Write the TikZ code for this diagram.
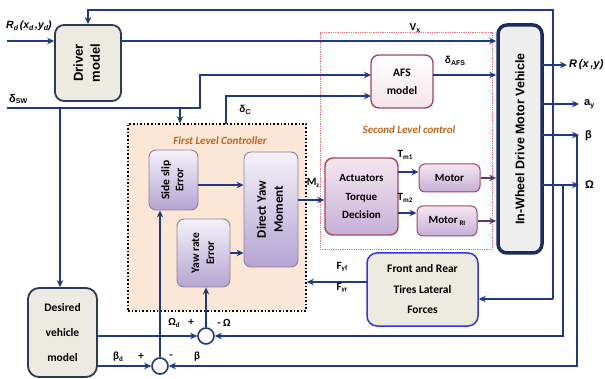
\documentclass[tikz,border=0pt]{standalone}
\usepackage{fontspec}
\setmainfont{Carlito}
\newfontfamily\arialf{Liberation Sans}
\usetikzlibrary{arrows.meta,calc}
\definecolor{navy}{HTML}{1F3A80}
\definecolor{beige}{HTML}{ECEAE1}
\definecolor{boxedge}{HTML}{2E3A55}
\definecolor{vehfill}{HTML}{EEEEEE}
\definecolor{vehedge}{HTML}{1A2B5C}
\definecolor{pedge}{HTML}{8A8298}
\definecolor{ptop}{HTML}{F4F2F8}
\definecolor{pbot}{HTML}{B3A4D2}
\definecolor{redge}{HTML}{A3465A}
\definecolor{rtop}{HTML}{F6E6EE}
\definecolor{rbot}{HTML}{C4B0D8}
\definecolor{afsbot}{HTML}{F3E4EA}
\definecolor{flcfill}{HTML}{FCE6D6}
\definecolor{orangelab}{HTML}{C0621A}
\definecolor{tiresedge}{HTML}{3434E0}
\definecolor{slcline}{HTML}{EC6F80}
\definecolor{motarr}{HTML}{5B3B62}
\newcommand{\lsub}[1]{\raisebox{-1.6pt}{\fontsize{7}{8}\selectfont #1}}
\tikzset{
  ln/.style={draw=navy, line width=1.6pt},
  arr/.style={ln, -{Stealth[length=7pt,width=6.5pt]}},
  greybox/.style={draw=boxedge, line width=1.8pt, rounded corners=9pt, fill=beige, align=center, inner sep=0pt},
  purplebox/.style={draw=pedge, line width=0.9pt, rounded corners=7pt, top color=ptop, bottom color=pbot, align=center, inner sep=0pt},
  redbox/.style={draw=redge, line width=1.4pt, rounded corners=8pt, top color=rtop, bottom color=rbot, align=center, inner sep=0pt},
  lab/.style={font=\arialf\bfseries\fontsize{10}{12}\selectfont, text=black, inner sep=0pt},
  clab/.style={font=\bfseries\fontsize{11}{12}\selectfont, text=black, inner sep=0pt},
  sumj/.style={circle, draw=navy, line width=1.6pt, fill=white, minimum size=16pt, inner sep=0pt},
}
\begin{document}
\begin{tikzpicture}[x=1pt,y=-1pt]
\useasboundingbox (0,0) rectangle (605,379);
% group boxes
\node[draw=black, dotted, line width=1.6pt, fill=flcfill, minimum width=178pt, minimum height=187pt, inner sep=0pt] (flc) at (217,217.5) {};
\node[draw=slcline, densely dotted, line width=0.8pt, minimum width=172pt, minimum height=217pt, inner sep=0pt] (slc) at (406,140.5) {};
\node[font=\bfseries\itshape\fontsize{11}{12}\selectfont, text=orangelab] (flct) at (220,141) {First Level Controller};
\node[font=\bfseries\itshape\fontsize{11}{12}\selectfont, text=orangelab] (slct) at (409,130) {Second Level control};

% blocks
\node[greybox, minimum width=66pt, minimum height=76pt] (driver) at (88,63)
  {\rotatebox{90}{\arialf\bfseries\fontsize{13}{17}\selectfont\begin{tabular}{@{}c@{}}Driver\\model\end{tabular}}};
\node[draw=vehedge, line width=3.5pt, rounded corners=9pt, fill=vehfill, minimum width=44pt, minimum height=228pt, inner sep=0pt] (veh) at (520,139)
  {\rotatebox{90}{\arialf\bfseries\fontsize{12.5}{14}\selectfont In-Wheel Drive Motor Vehicle}};
\node[draw=redge, line width=1.4pt, rounded corners=8pt, top color=white, bottom color=afsbot, minimum width=62pt, minimum height=53pt, align=center, inner sep=0pt, font=\bfseries\fontsize{11.5}{18}\selectfont] (afs) at (402,81.5) {AFS\\model};
\node[purplebox, minimum width=49pt, minimum height=60pt] (ss) at (173.5,180)
  {\rotatebox{90}{\bfseries\fontsize{11.5}{14}\selectfont\begin{tabular}{@{}c@{}}Side slip\\Error\end{tabular}}};
\node[purplebox, minimum width=53pt, minimum height=68pt] (yr) at (203.5,253)
  {\rotatebox{90}{\bfseries\fontsize{11.5}{15}\selectfont\begin{tabular}{@{}c@{}}Yaw rate\\Error\end{tabular}}};
\node[purplebox, minimum width=54pt, minimum height=115pt] (dym) at (271,209.5)
  {\rotatebox{90}{\bfseries\fontsize{13}{17}\selectfont\begin{tabular}{@{}c@{}}Direct Yaw\\Moment\end{tabular}}};
\node[redbox, minimum width=73pt, minimum height=77pt, font=\bfseries\fontsize{11}{18.5}\selectfont] (act) at (361.5,196.5) {Actuators\\Torque\\Decision};
\node[redbox, line width=1pt, rounded corners=6pt, minimum width=61pt, minimum height=28pt, font=\bfseries\fontsize{11}{12}\selectfont] (mot) at (449.5,178) {Motor};
\node[redbox, line width=1pt, rounded corners=6pt, minimum width=60pt, minimum height=30pt, font=\bfseries\fontsize{11}{12}\selectfont] (motri) at (447,221) {Motor\,\lsub{RI}};
\node[draw=tiresedge, line width=1.5pt, rounded corners=10pt, fill=beige, minimum width=111pt, minimum height=73pt, align=center, inner sep=0pt, font=\bfseries\fontsize{11.5}{20.5}\selectfont] (tires) at (422.5,289.5) {Front and Rear\\Tires Lateral\\Forces};
\node[greybox, rounded corners=11pt, minimum width=69pt, minimum height=89pt, font=\bfseries\fontsize{11.5}{25}\selectfont] (des) at (62.5,332.5) {Desired\\vehicle\\model};
\node[sumj] (osum) at (206,336) {};
\node[sumj] (bsum) at (160,366) {};

% coordinates
\coordinate (rdin) at (7,41);
\coordinate (vxs) at (121,41);
\coordinate (dsw) at (7,108);
\coordinate (dswA) at (200,108);
\coordinate (dswB) at (180,108);
\coordinate (dswC) at (60,108);
\coordinate (afsin1) at (371,75);
\coordinate (afsin2) at (371,96);
\coordinate (dcs) at (226,124);
\coordinate (afsout) at (433,75);
\coordinate (ftop) at (553,10);
\coordinate (fbot) at (553,299);
\coordinate (rout) at (542,65);
\coordinate (rend) at (567,65);
\coordinate (ayout) at (542,104);
\coordinate (ayend) at (579,104);
\coordinate (bout) at (542,135);
\coordinate (bend) at (579,135);
\coordinate (bfb) at (577,135);
\coordinate (oout) at (542,185);
\coordinate (oend) at (579,185);
\coordinate (ofb) at (563,185);
\coordinate (fin) at (367,282);
\coordinate (ssout) at (198,185);
\coordinate (mzout) at (298,200);
\coordinate (t1) at (398,172);
\coordinate (t2) at (398,213);
\coordinate (dso) at (97,336);
\coordinate (dsb) at (97,366);

% connectors
\draw[arr] (rdin) -- (rdin -| driver.west);
\draw[arr] (fbot) -- (ftop) -| (driver.north);
\draw[arr] (fbot) -- (fbot -| tires.east);
\draw[arr] (vxs) -- (vxs -| veh.west);
\draw[arr] (dsw) -- (dswA) |- (afsin1);
\draw[arr] (dswB) -- (dswB |- flc.north);
\draw[arr] (dswC) -- (dswC |- des.north);
\draw[arr] (dcs) |- (afsin2);
\draw[arr] (afsout) -- (afsout -| veh.west);
\draw[arr] (rout) -- (rend);
\draw[arr] (ayout) -- (ayend);
\draw[arr] (bout) -- (bend);
\draw[arr] (oout) -- (oend);
\draw[arr] (bfb) |- (bsum.east);
\draw[arr] (ofb) |- (osum.east);
\draw[arr] (fin) -- (fin -| flc.east);
\draw[arr] (dso) -- (osum.west);
\draw[arr] (dsb) -- (bsum.west);
\draw[arr] (bsum.north) -- (bsum.north |- ss.south);
\draw[arr] (osum.north) -- (osum.north |- yr.south);
\draw[arr] (ssout) -- (ssout -| dym.west);
\draw[arr] (yr.east) -- (yr.east -| dym.west);
\draw[arr] (mzout) -- (mzout -| act.west);
\draw[arr] (t1) -- (t1 -| mot.west);
\draw[arr] (t2) -- (t2 -| motri.west);
\draw[arr, draw=motarr] (mot.east) -- (mot.east -| veh.west);
\draw[arr, draw=motarr] (motri.east) -- (motri.east -| veh.west);

% labels
\node[font=\arialf\bfseries\itshape\fontsize{10.5}{12}\selectfont, anchor=west, inner sep=0pt] (lrd) at (6,26) {R\lsub{d}\,(x\lsub{d}\,,y\lsub{d})};
\node[lab, anchor=west, font=\arialf\bfseries\fontsize{11}{12}\selectfont] (ldsw) at (9,99) {δ\lsub{SW}};
\node[lab] (lvx) at (415,28) {V\lsub{x}};
\node[lab] (lafs) at (455,61) {δ\lsub{AFS}};
\node[lab] (ldc) at (245,110) {δ\lsub{C}};
\node[clab] (lmz) at (313,183) {M\lsub{z}};
\node[clab] (lt1) at (405,155) {T\lsub{m1}};
\node[clab] (lt2) at (405,198) {T\lsub{m2}};
\node[clab] (lfyf) at (342,267) {F\lsub{yf}};
\node[clab] (lfyr) at (342,288) {F\lsub{yr}};
\node[font=\arialf\bfseries\itshape\fontsize{11}{12}\selectfont, anchor=west, inner sep=0pt] (lr) at (569,65) {R\,(x\,,y)};
\node[lab, anchor=west, font=\arialf\bfseries\fontsize{11}{12}\selectfont] (lay) at (584,104) {a\lsub{y}};
\node[lab, anchor=west, font=\arialf\bfseries\fontsize{11}{12}\selectfont] (lb) at (585,136) {β};
\node[lab, anchor=west, font=\arialf\bfseries\fontsize{11}{12}\selectfont] (lo) at (585,185) {Ω};
\node[clab] (lbd) at (118,357) {β\lsub{d}};
\node[clab] (lbp) at (141,356) {+};
\node[clab] (lbm) at (171,357) {-};
\node[clab] (lbb) at (197,357) {β};
\node[clab] (lod) at (174,323) {Ω\lsub{d}};
\node[clab] (lop) at (191,322) {+};
\node[clab] (lom) at (224,323) {- Ω};
\end{tikzpicture}
\end{document}
